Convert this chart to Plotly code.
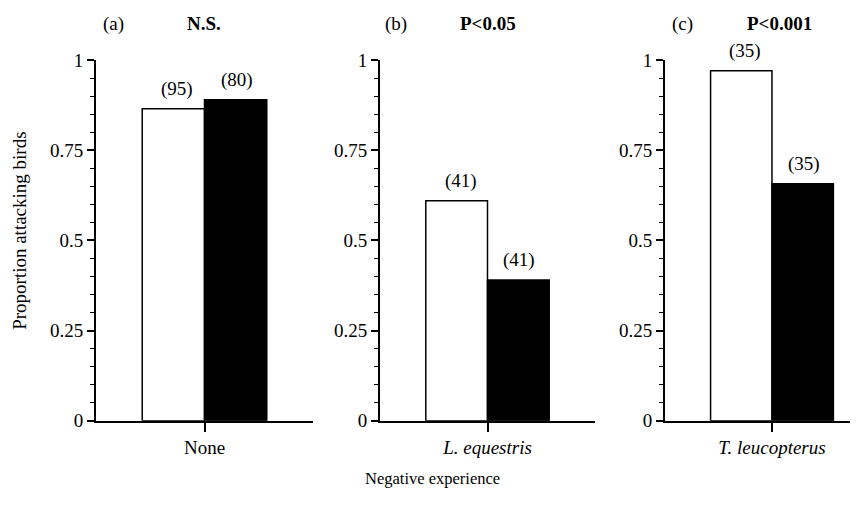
import plotly.graph_objects as go

# ---------------- data ----------------
categories = ["None", "L. equestris", "T. leucopterus"]
tick_labels = ["None", "<i>L. equestris</i>", "<i>T. leucopterus</i>"]
panel_letters = ["(a)", "(b)", "(c)"]
significance = ["N.S.", "P<0.05", "P<0.001"]
white_values = [0.865, 0.61, 0.971]
black_values = [0.89, 0.39, 0.657]
white_n = [95, 41, 35]
black_n = [80, 41, 35]
y_ticks = [0, 0.25, 0.5, 0.75, 1]
y_tick_labels = ["0", "0.25", "0.5", "0.75", "1"]

# ---------------- layout constants ----------------
OFF = 8                      # default page (body) margin of the html page
W, H = 858 - OFF, 517 - OFF
FONT = "Liberation Serif"
FS = 19


def px_x(p):
    return (p - OFF) / W


def px_y(p):
    return 1 - (p - OFF) / H


x_domains = [(px_x(96), px_x(313)), (px_x(380), px_x(595)), (px_x(665), 1.0)]
x_ranges = [[-0.5, 0.5], [-0.5, 0.5], [-0.5, 0.402]]
y_domain = [px_y(428), px_y(52)]
BARGAP = 0.426
half_bar = (1 - BARGAP) / 4  # centre offset of each bar in a group

fig = go.Figure()
annotations = []
for i, cat in enumerate(categories):
    xa = "x" if i == 0 else f"x{i+1}"
    ya = "y" if i == 0 else f"y{i+1}"
    fig.add_trace(go.Bar(x=[cat], y=[white_values[i]], xaxis=xa, yaxis=ya,
                         name="Open", marker=dict(color="white", line=dict(color="black", width=1.5)),
                         showlegend=False, cliponaxis=False))
    fig.add_trace(go.Bar(x=[cat], y=[black_values[i]], xaxis=xa, yaxis=ya,
                         name="Filled", marker=dict(color="black", line=dict(color="black", width=1.5)),
                         showlegend=False, cliponaxis=False))
    annotations.append(dict(x=-half_bar, y=white_values[i], xref=xa, yref=ya, text=f"({white_n[i]})",
                            showarrow=False, yanchor="bottom", yshift=7, xshift=4,
                            font=dict(family=FONT, size=FS, color="black")))
    annotations.append(dict(x=half_bar, y=black_values[i], xref=xa, yref=ya, text=f"({black_n[i]})",
                            showarrow=False, yanchor="bottom", yshift=7, xshift=1,
                            font=dict(family=FONT, size=FS, color="black")))

axis_common = dict(showline=True, linecolor="black", linewidth=2, showgrid=False, zeroline=False,
                   ticks="outside", tickcolor="black", tickfont=dict(family=FONT, size=FS, color="black"))

layout = dict(width=W, height=H, margin=dict(l=0, r=0, t=0, b=0),
              paper_bgcolor="white", plot_bgcolor="white",
              barmode="group", bargap=BARGAP, bargroupgap=0,
              font=dict(family=FONT, size=FS, color="black"))
for i, cat in enumerate(categories):
    sx = "" if i == 0 else str(i + 1)
    layout[f"xaxis{sx}"] = dict(axis_common, domain=list(x_domains[i]), anchor=f"y{sx}",
                                type="category", range=x_ranges[i], tickvals=[cat], ticktext=[tick_labels[i]],
                                ticklen=9, tickwidth=1.5, ticklabelstandoff=0)
    layout[f"yaxis{sx}"] = dict(axis_common, domain=y_domain, anchor=f"x{sx}", range=[0, 1],
                                tickvals=y_ticks, ticktext=y_tick_labels, ticklen=7, tickwidth=1.5,
                                minor=dict(dtick=0.05, tick0=0, ticks="outside", ticklen=4, tickwidth=1.2,
                                           tickcolor="black", showgrid=False))

letter_x = [113, 396, 682]
sig_x = [204, 488, 779]
for i in range(3):
    annotations.append(dict(x=px_x(letter_x[i]), y=px_y(14), xref="paper", yref="paper", text=panel_letters[i],
                            showarrow=False, xanchor="center", yanchor="middle",
                            font=dict(family=FONT, size=FS, color="black")))
    annotations.append(dict(x=px_x(sig_x[i]), y=px_y(14), xref="paper", yref="paper",
                            text=f"<b>{significance[i].replace('<', '&lt;')}</b>",
                            showarrow=False, xanchor="center", yanchor="middle",
                            font=dict(family=FONT, size=FS, color="black")))

annotations.append(dict(x=px_x(20), y=px_y(230), xref="paper", yref="paper", text="Proportion attacking birds",
                        textangle=-90, showarrow=False, xanchor="center", yanchor="middle",
                        font=dict(family=FONT, size=FS, color="black")))
annotations.append(dict(x=px_x(432), y=px_y(488), xref="paper", yref="paper", text="Negative experience",
                        showarrow=False, xanchor="center", yanchor="middle",
                        font=dict(family=FONT, size=16.5, color="black")))
layout["annotations"] = annotations

fig.update_layout(**layout)
fig.write_html("out.html")
